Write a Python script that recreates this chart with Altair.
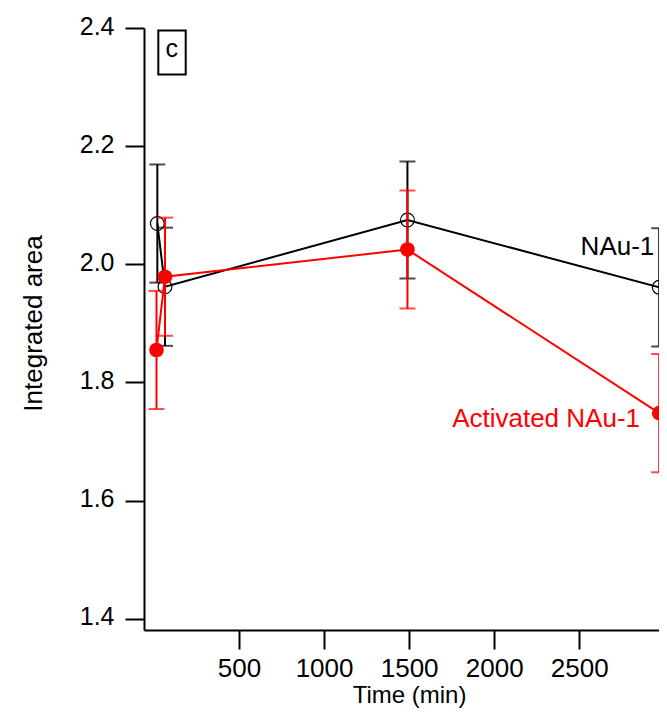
import altair as alt
import pandas as pd

# ---- data ----
time_nau = [20, 65, 1490, 2970]
area_nau = [2.069, 1.962, 2.075, 1.961]
err_nau = [0.10, 0.10, 0.099, 0.10]

time_act = [15, 65, 1490, 2970]
area_act = [1.855, 1.979, 2.025, 1.748]
err_act = [0.10, 0.10, 0.10, 0.10]

x_ticks = [500, 1000, 1500, 2000, 2500]
y_ticks = [1.4, 1.6, 1.8, 2.0, 2.2, 2.4]

FONT = "Liberation Sans"

def frame(t, a, e):
    return pd.DataFrame({
        "time": t, "area": a,
        "lo": [v - d for v, d in zip(a, e)],
        "hi": [v + d for v, d in zip(a, e)],
    })

df_nau = frame(time_nau, area_nau, err_nau)
df_act = frame(time_act, area_act, err_act)

xs = alt.Scale(domain=[-58.4, 2968.6], nice=False, zero=False)
ys = alt.Scale(domain=[1.381, 2.4], nice=False, zero=False)

X = alt.X("time:Q", scale=xs,
          axis=alt.Axis(values=x_ticks, format="d", title="Time (min)", grid=False,
                        tickSize=19, labelPadding=6, labelFontSize=26,
                        titleX=265, titleY=72, titleBaseline="alphabetic", titleFontSize=24))
Y = alt.Y("area:Q", scale=ys,
          axis=alt.Axis(values=y_ticks, format=".1f", title="Integrated area", grid=False,
                        tickSize=19, labelPadding=11, labelFontSize=25, labelOffset=-2,
                        titleX=-103, titleY=295, titleBaseline="alphabetic", titleAngle=-90,
                        titleFontSize=26))


def series(df, color, filled):
    base = alt.Chart(df)
    line = base.mark_line(color=color, strokeWidth=2).encode(x=X, y=Y)
    rule = base.mark_rule(color=color, strokeWidth=2).encode(x=X, y=alt.Y("lo:Q", scale=ys), y2="hi:Q")
    cap_lo = base.mark_tick(color=color, orient="horizontal", size=16, thickness=2).encode(x=X, y=alt.Y("lo:Q", scale=ys))
    cap_hi = base.mark_tick(color=color, orient="horizontal", size=16, thickness=2).encode(x=X, y=alt.Y("hi:Q", scale=ys))
    if filled:
        pts = base.mark_point(filled=True, color=color, size=215, opacity=1).encode(x=X, y=Y)
    else:
        pts = base.mark_point(filled=False, color=color, size=190, strokeWidth=1.2, opacity=1).encode(x=X, y=Y)
    return [line, rule, cap_lo, cap_hi, pts]


labels = pd.DataFrame({
    "time": [2941, 2857],
    "area": [2.0152, 1.7253],
    "text": ["NAu-1", "Activated NAu-1"],
    "color": ["black", "#ff0000"],
})
label_layer = alt.Chart(labels).mark_text(align="right", baseline="alphabetic", font=FONT, fontSize=26).encode(
    x=X, y=Y, text="text:N", color=alt.Color("color:N", scale=None))

box = pd.DataFrame({"x1": [25.7], "x2": [186.7], "y1": [2.3956], "y2": [2.3212],
                    "tx": [104.5], "ty": [2.3516], "t": ["c"]})
box_rect = alt.Chart(box).mark_rect(fill=None, stroke="black", strokeWidth=2).encode(
    x=alt.X("x1:Q", scale=xs), x2="x2:Q", y=alt.Y("y1:Q", scale=ys), y2="y2:Q")
box_text = alt.Chart(box).mark_text(font=FONT, fontSize=25, baseline="alphabetic", align="center", color="black").encode(
    x=alt.X("tx:Q", scale=xs), y=alt.Y("ty:Q", scale=ys), text="t:N")

layers = series(df_nau, "black", False) + series(df_act, "#ff0000", True) + [label_layer, box_rect, box_text]

chart = alt.layer(*layers).properties(
    width=515, height=602,
    autosize=alt.AutoSizeParams(type="none"),
    padding={"left": 136, "top": 20, "right": 0, "bottom": 78},
).configure_view(stroke=None).configure_axis(
    domainColor="black", domainWidth=2, tickColor="black", tickWidth=2,
    labelFont=FONT, labelColor="black",
    titleFont=FONT, titleColor="black", titleFontWeight="normal",
)

chart.save("out.html", embed_options={"renderer": "svg", "actions": False})
